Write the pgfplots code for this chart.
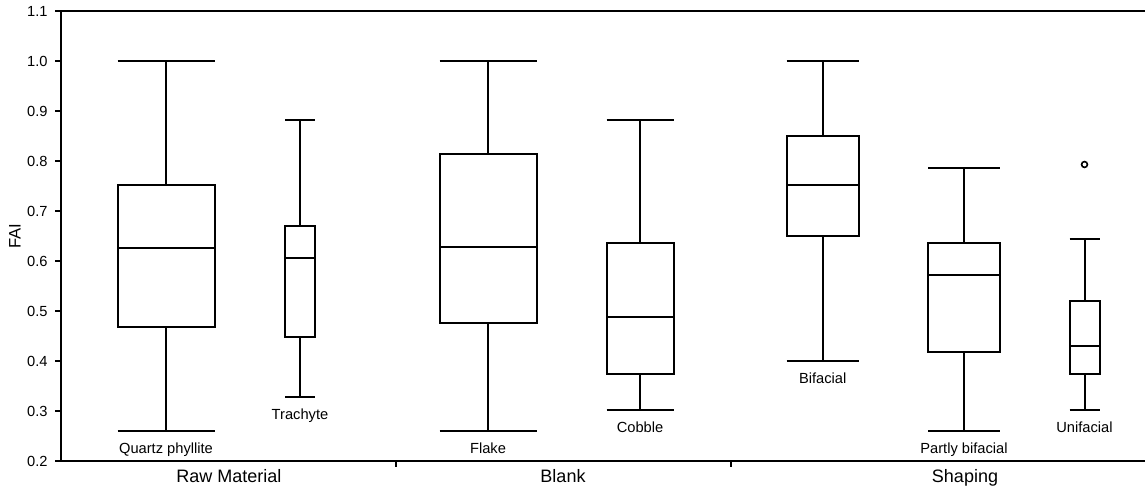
\documentclass[border=0pt]{standalone}
\usepackage{fontspec}
\setmainfont{Liberation Sans}
\usepackage{pgfplots}
\pgfplotsset{compat=1.18}
\usepgfplotslibrary{statistics}
\begin{document}
\begin{tikzpicture}[x=1pt,y=1pt]
\begin{axis}[
  scale only axis,
  width=813pt, height=337.5pt,
  xmin=61, xmax=1145, ymin=0.2, ymax=1.1,
  axis x line*=bottom, axis y line*=left,
  axis line style={-, line width=1.5pt, black},
  tick align=outside,
  major tick length=4.5pt,
  tick style={line width=1.5pt, black},
  xtick={396,731}, xticklabels={},
  ytick={0.2,0.3,0.4,0.5,0.6,0.7,0.8,0.9,1.0,1.1},
  yticklabel style={font=\fontsize{11}{13}\selectfont, xshift=-2pt, /pgf/number format/fixed, /pgf/number format/fixed zerofill, /pgf/number format/precision=1},
  /pgf/number format/assume math mode=true,
  clip=false,
  boxplot/draw direction=y,
  boxplot/every box/.style={draw=black, solid, line width=1.5pt, fill=none},
  boxplot/every whisker/.style={draw=black, solid, line width=1.5pt},
  boxplot/every median/.style={draw=black, solid, line width=1.5pt},
]
\draw[line width=1.5pt] (rel axis cs:0,1) -- (rel axis cs:1,1);
% Quartz phyllite
\addplot[black, solid, line width=1.5pt, boxplot prepared={draw position=166, box extend=97, whisker extend=97,
  lower whisker=0.26, lower quartile=0.467, median=0.625, upper quartile=0.751, upper whisker=1.0}] coordinates {};
% Trachyte
\addplot[black, solid, line width=1.5pt, boxplot prepared={draw position=300, box extend=30, whisker extend=30,
  lower whisker=0.328, lower quartile=0.448, median=0.605, upper quartile=0.669, upper whisker=0.882}] coordinates {};
% Flake
\addplot[black, solid, line width=1.5pt, boxplot prepared={draw position=488, box extend=97, whisker extend=97,
  lower whisker=0.26, lower quartile=0.475, median=0.628, upper quartile=0.813, upper whisker=1.0}] coordinates {};
% Cobble
\addplot[black, solid, line width=1.5pt, boxplot prepared={draw position=640, box extend=67, whisker extend=67,
  lower whisker=0.302, lower quartile=0.374, median=0.488, upper quartile=0.635, upper whisker=0.882}] coordinates {};
% Bifacial
\addplot[black, solid, line width=1.5pt, boxplot prepared={draw position=822.7, box extend=72, whisker extend=72,
  lower whisker=0.399, lower quartile=0.650, median=0.752, upper quartile=0.849, upper whisker=1.0}] coordinates {};
% Partly bifacial
\addplot[black, solid, line width=1.5pt, boxplot prepared={draw position=964, box extend=72, whisker extend=72,
  lower whisker=0.26, lower quartile=0.418, median=0.572, upper quartile=0.635, upper whisker=0.785}] coordinates {};
% Unifacial
\addplot[black, solid, line width=1.5pt, mark=o, mark size=2.2pt, mark options={line width=1.2pt, solid, black},
  boxplot prepared={draw position=1084.5, box extend=30, whisker extend=30,
  lower whisker=0.302, lower quartile=0.373, median=0.429, upper quartile=0.519, upper whisker=0.643}]
  table[row sep=\\, y index=0] {data\\ 0.793\\};
% box labels
\begin{scope}[every node/.style={font=\fontsize{11}{13}\selectfont, anchor=base, inner sep=0pt}]
\node at (axis cs:166,0.26) [yshift=-16.75pt] {Quartz phyllite};
\node at (axis cs:300,0.328) [yshift=-16.75pt] {Trachyte};
\node at (axis cs:488,0.26) [yshift=-16.75pt] {Flake};
\node at (axis cs:640,0.302) [yshift=-16.75pt] {Cobble};
\node at (axis cs:822.7,0.399) [yshift=-16.75pt] {Bifacial};
\node at (axis cs:964,0.26) [yshift=-16.75pt] {Partly bifacial};
\node at (axis cs:1084.5,0.302) [yshift=-16.75pt] {Unifacial};
\end{scope}
\begin{scope}[every node/.style={font=\fontsize{13.5}{16}\selectfont, anchor=base, inner sep=0pt}]
\node at (axis cs:229,0.2) [yshift=-16.5pt] {Raw Material};
\node at (axis cs:563,0.2) [yshift=-16.5pt] {Blank};
\node at (axis cs:965,0.2) [yshift=-16.5pt] {Shaping};
\end{scope}
\node[rotate=90, font=\fontsize{12.5}{14}\selectfont, anchor=center, inner sep=0pt] at ([xshift=-34.5pt]rel axis cs:0,0.5) {FAI};
\end{axis}
\pgfresetboundingbox
\path[use as bounding box] (-45.75pt,-20.25pt) rectangle (813pt,345.75pt);
\end{tikzpicture}
\end{document}
